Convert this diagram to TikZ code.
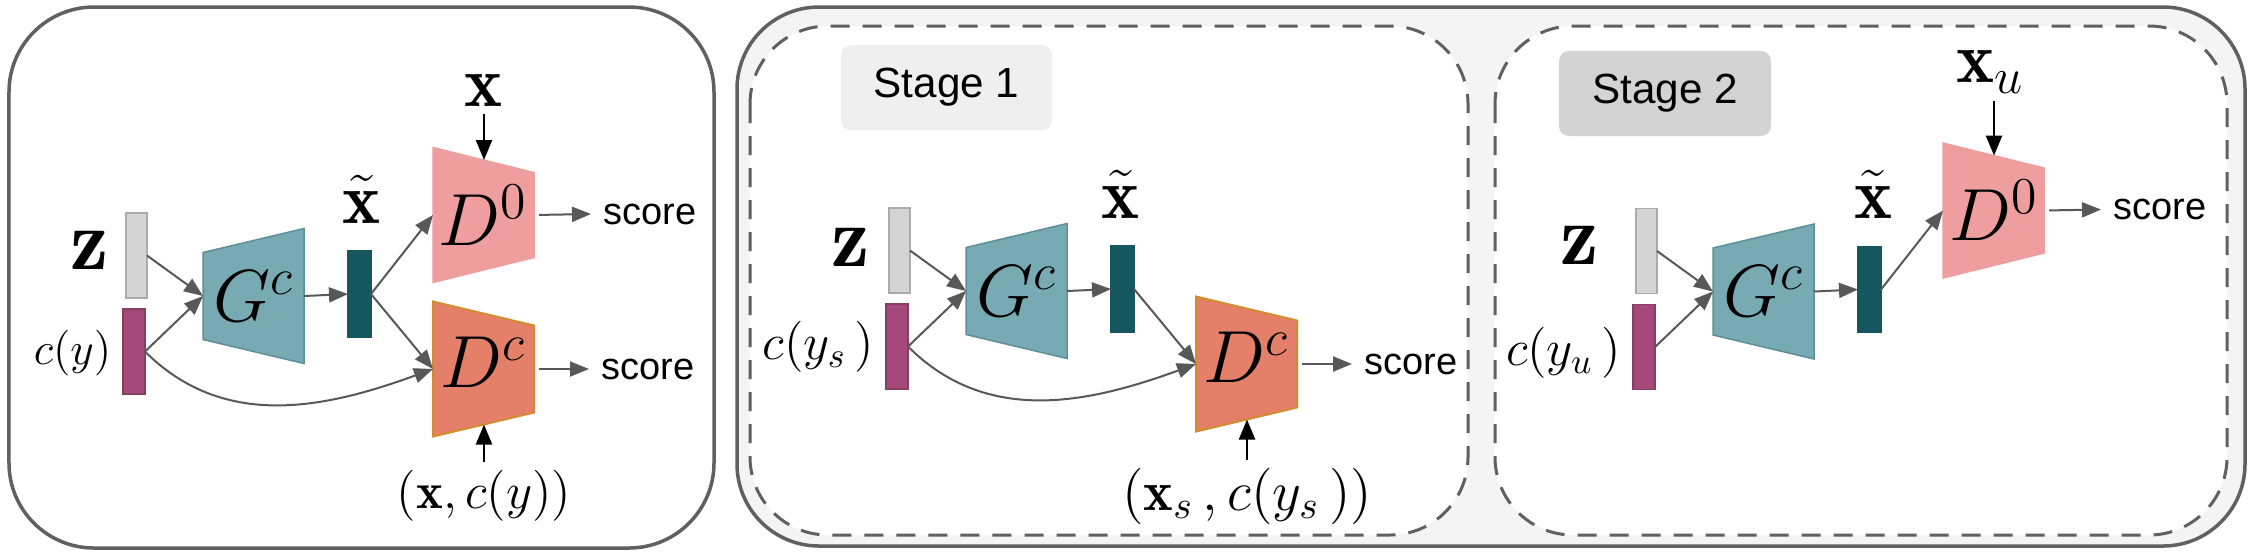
\RequirePackage{fix-cm}
\documentclass[tikz,border=0pt]{standalone}
\usepackage{fontspec}
\setsansfont{Liberation Sans}
\usetikzlibrary{arrows.meta}

\definecolor{gfill}{HTML}{78AAB4}
\definecolor{gline}{HTML}{5D8F99}
\definecolor{xbar}{HTML}{16575F}
\definecolor{dzero}{HTML}{EE9E9E}
\definecolor{dcfill}{HTML}{E4806A}
\definecolor{dcline}{HTML}{D38B2C}
\definecolor{zbar}{HTML}{D4D4D4}
\definecolor{zline}{HTML}{ABABAB}
\definecolor{cbar}{HTML}{A5497A}
\definecolor{cline}{HTML}{874063}
\definecolor{frame}{HTML}{606060}
\definecolor{arrowgray}{HTML}{585858}
\definecolor{panelbg}{HTML}{F4F4F4}
\definecolor{stageone}{HTML}{EFEFEF}
\definecolor{stagetwo}{HTML}{D3D3D3}

\tikzset{
  panel/.style={draw=frame, line width=0.035cm, rounded corners=0.85cm},
  stagebox/.style={draw=frame, line width=0.03cm, dash pattern=on 0.19cm off 0.13cm, rounded corners=0.78cm, fill=white},
  stagetag/.style={rounded corners=0.1cm, minimum width=2.11cm, minimum height=0.85cm, font=\sffamily\fontsize{12}{14}\selectfont},
  zvec/.style={draw=zline, fill=zbar, line width=0.015cm, minimum width=0.21cm, minimum height=0.85cm, inner sep=0, outer sep=0},
  cvec/.style={zvec, draw=cline, fill=cbar, minimum width=0.22cm},
  xvec/.style={zvec, draw=xbar, fill=xbar, minimum width=0.23cm, minimum height=0.86cm},
  trapbox/.style={minimum width=1.01cm, minimum height=1.35cm, inner sep=0, outer sep=0, font=\fontsize{21}{25}\selectfont},
  gshape/.style={draw=gline, fill=gfill, line width=0.015cm},
  d0shape/.style={draw=dzero, fill=dzero, line width=0.015cm},
  dcshape/.style={draw=dcline, fill=dcfill, line width=0.02cm},
  biglbl/.style={inner sep=2pt, anchor=base, font=\fontsize{20.5}{24}\selectfont},
  zlbl/.style={biglbl, font=\fontsize{24.5}{29}\selectfont},
  condlbl/.style={inner sep=2pt, anchor=base east, font=\fontsize{14.5}{17}\selectfont},
  pairlbl/.style={inner sep=2pt, anchor=base, font=\fontsize{14.5}{17}\selectfont},
  scoretxt/.style={anchor=west, inner sep=0.12cm, font=\sffamily\fontsize{10.8}{13}\selectfont},
  flow/.style={draw=arrowgray, line width=0.02cm, -{Triangle[length=0.19cm,width=0.15cm]}},
  feed/.style={draw=black, line width=0.025cm, -{Triangle[length=0.2cm,width=0.16cm]}},
}

\begin{document}
\begin{tikzpicture}
\useasboundingbox (0,0) rectangle (22.52,-5.56);
% frames
\draw[panel, fill=white] (0.09,-0.07) rectangle (7.14,-5.48);
\draw[panel, fill=panelbg, rounded corners=0.82cm] (7.37,-0.07) rectangle (22.45,-5.46);
\draw[stagebox] (7.50,-0.26) rectangle (14.68,-5.35);
\draw[stagebox] (14.95,-0.26) rectangle (22.27,-5.35);
\node[stagetag, fill=stageone] (tag1) at (9.465,-0.875) {Stage 1};
\node[stagetag, fill=stagetwo, minimum width=2.12cm] (tag2) at (16.65,-0.935) {Stage 2};

% left panel
\node[zvec] (zA) at (1.365,-2.555) {};
\node[cvec] (cA) at (1.34,-3.515) {};
\node[zlbl] (zlA) at (0.90,-2.69) {$\mathbf{z}$};
\node[condlbl, font=\fontsize{13}{16}\selectfont] (clA) at (1.19,-3.645) {$c(y)$};
\filldraw[gshape] (2.03,-2.525) -- (3.04,-2.285) -- (3.04,-3.635) -- (2.03,-3.395) -- cycle;
\node[trapbox] (gA) at (2.535,-2.96) {$G^c$};
\node[xvec] (xtA) at (3.595,-2.94) {};
\node[biglbl] (xlA) at (3.62,-2.23) {$\tilde{\mathbf{x}}$};
\filldraw[d0shape] (4.33,-1.475) -- (5.34,-1.725) -- (5.34,-2.575) -- (4.33,-2.825) -- cycle;
\node[trapbox] (d0A) at (4.835,-2.15) {$D^0$};
\filldraw[dcshape] (4.33,-3.015) -- (5.34,-3.255) -- (5.34,-4.125) -- (4.33,-4.365) -- cycle;
\node[trapbox] (dcA) at (4.835,-3.69) {\raisebox{0.13cm}{$D^c$}};
\node[biglbl] (xA) at (4.84,-1.06) {$\mathbf{x}$};
\node[pairlbl] (pA) at (4.84,-5.08) {$(\mathbf{x},c(y))$};
\node[scoretxt] (sA1) at (5.91,-2.14) {score};
\node[scoretxt] (sA2) at (5.89,-3.69) {score};
\coordinate (d0topA) at (4.84,-1.60);
\coordinate (dcbotA) at (4.84,-4.245);
\draw[flow] (zA.east) -- (gA.west);
\draw[flow] (cA.east) -- (gA.west);
\draw[flow] (gA.east) -- (xtA.west);
\draw[flow] (xtA.east) -- (d0A.west);
\draw[flow] (xtA.east) -- (dcA.west);
\draw[flow] (cA.east) to[out=-45,in=200] (dcA.west);
\draw[flow, shorten <=0.05cm] (d0A.east) -- (sA1.west);
\draw[flow, shorten <=0.05cm] (dcA.east) -- (sA2.west);
\draw[feed] (xA.south) -- (d0topA);
\draw[feed] (pA.north) -- (dcbotA);

% stage 1
\begin{scope}[xshift=7.63cm, yshift=0.05cm]
\node[zvec] (zB) at (1.365,-2.555) {};
\node[cvec] (cB) at (1.34,-3.515) {};
\node[zlbl] (zlB) at (0.88,-2.71) {$\mathbf{z}$};
\node[condlbl] (clB) at (1.19,-3.645) {$c(y_s\,)$};
\filldraw[gshape] (2.03,-2.525) -- (3.04,-2.285) -- (3.04,-3.635) -- (2.03,-3.395) -- cycle;
\node[trapbox] (gB) at (2.535,-2.96) {$G^c$};
\node[xvec] (xtB) at (3.595,-2.94) {};
\node[biglbl] (xlB) at (3.58,-2.23) {$\tilde{\mathbf{x}}$};
\filldraw[dcshape] (4.33,-3.015) -- (5.34,-3.255) -- (5.34,-4.125) -- (4.33,-4.365) -- cycle;
\node[trapbox] (dcB) at (4.835,-3.69) {\raisebox{0.13cm}{$D^c$}};
\node[pairlbl, font=\fontsize{16}{19}\selectfont] (pB) at (4.84,-5.15) {$(\mathbf{x}_s\,,c(y_s\,))$};
\node[scoretxt] (sB) at (5.89,-3.69) {score};
\coordinate (dcbotB) at (4.84,-4.245);
\draw[flow] (zB.east) -- (gB.west);
\draw[flow] (cB.east) -- (gB.west);
\draw[flow] (gB.east) -- (xtB.west);
\draw[flow] (xtB.east) -- (dcB.west);
\draw[flow] (cB.east) to[out=-45,in=200] (dcB.west);
\draw[flow, shorten <=0.05cm] (dcB.east) -- (sB.west);
\draw[feed] (pB.north) -- (dcbotB);
\end{scope}

% stage 2
\begin{scope}[xshift=15.10cm, yshift=0.045cm]
\node[zvec] (zC) at (1.365,-2.555) {};
\node[cvec] (cC) at (1.34,-3.515) {};
\node[zlbl] (zlC) at (0.70,-2.69) {$\mathbf{z}$};
\node[condlbl] (clC) at (1.19,-3.70) {$c(y_u\,)$};
\filldraw[gshape] (2.03,-2.525) -- (3.04,-2.285) -- (3.04,-3.635) -- (2.03,-3.395) -- cycle;
\node[trapbox] (gC) at (2.535,-2.96) {$G^c$};
\node[xvec] (xtC) at (3.595,-2.94) {};
\node[biglbl] (xlC) at (3.63,-2.23) {$\tilde{\mathbf{x}}$};
\filldraw[d0shape] (4.33,-1.475) -- (5.34,-1.725) -- (5.34,-2.575) -- (4.33,-2.825) -- cycle;
\node[trapbox] (d0C) at (4.835,-2.15) {$D^0$};
\node[biglbl] (xC) at (4.80,-0.87) {$\mathbf{x}_u$};
\node[scoretxt] (sC) at (5.91,-2.14) {score};
\coordinate (d0topC) at (4.84,-1.60);
\draw[flow] (zC.east) -- (gC.west);
\draw[flow] (cC.east) -- (gC.west);
\draw[flow] (gC.east) -- (xtC.west);
\draw[flow] (xtC.east) -- (d0C.west);
\draw[flow, shorten <=0.05cm] (d0C.east) -- (sC.west);
\draw[feed] (xC.south -| d0topC) -- (d0topC);
\end{scope}
\end{tikzpicture}
\end{document}
